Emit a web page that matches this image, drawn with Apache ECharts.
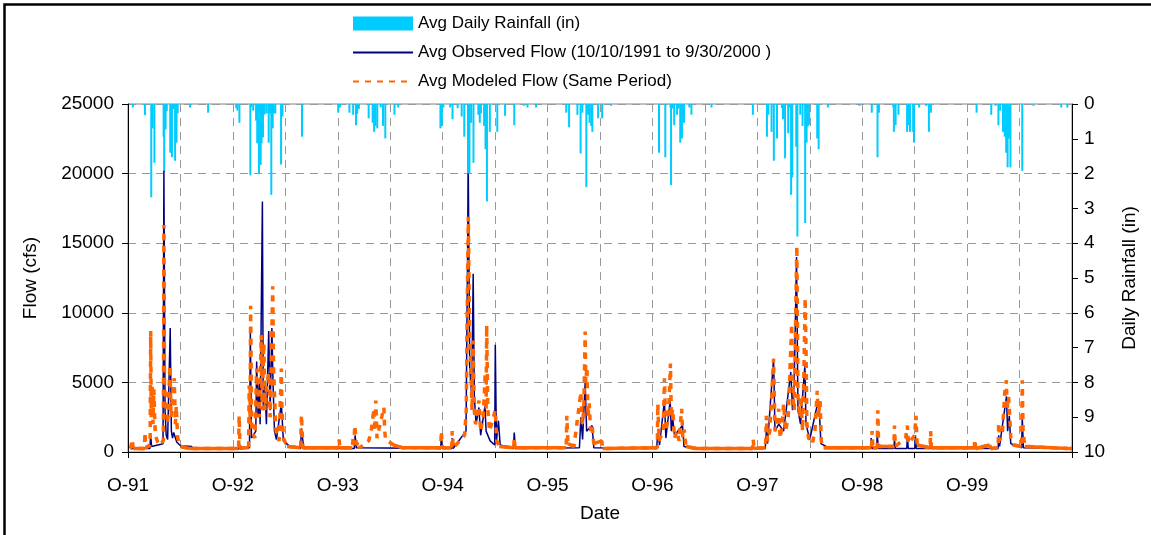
<!DOCTYPE html>
<html>
<head>
<meta charset="utf-8">
<script src="https://cdn.jsdelivr.net/npm/echarts@6/dist/echarts.min.js"></script>
<style>
  html, body { margin: 0; padding: 0; background: #fff; }
  #chart { width: 1151px; height: 535px; }
</style>
</head>
<body>
<div id="chart"></div>
<script>
// Water years Oct 1991 - Sep 2000; x axis counts days from 1 Oct 1991.
const START = Date.UTC(1991, 9, 1);
const DAY_MS = 86400000;
const YEAR_DAYS = 365.25;
const HALF_YEAR = YEAR_DAYS / 2;
const X_MAX = 9 * YEAR_DAYS;

const TICK_LABELS = ['O-91', 'O-92', 'O-93', 'O-94', 'O-95', 'O-96', 'O-97', 'O-98', 'O-99'];

const SERIES_NAMES = [
  'Avg Daily Rainfall (in)',
  'Avg Observed Flow (10/10/1991 to 9/30/2000 )',
  'Avg Modeled Flow (Same Period)'
];

// Average daily rainfall, inches
const RAINFALL = [
  ['1991-10-18', 0.10], ['1991-11-29', 0.32], ['1991-12-21', 2.68], ['1991-12-26', 0.70],
  ['1992-01-01', 1.69], ['1992-02-02', 0.94], ['1992-02-04', 1.95], ['1992-02-09', 0.73],
  ['1992-02-13', 0.20], ['1992-02-25', 1.40], ['1992-03-02', 1.53], ['1992-03-08', 0.15],
  ['1992-03-13', 1.63], ['1992-03-18', 1.11], ['1992-03-22', 0.27], ['1992-05-04', 0.10],
  ['1992-07-06', 0.25],
  ['1992-10-12', 0.12], ['1992-10-16', 0.19], ['1992-10-23', 0.54], ['1992-11-30', 2.05],
  ['1992-12-04', 0.08], ['1992-12-10', 0.19], ['1992-12-20', 0.48], ['1992-12-24', 1.13],
  ['1992-12-30', 1.99], ['1993-01-05', 1.75], ['1993-01-08', 1.13], ['1993-01-13', 0.96],
  ['1993-01-19', 0.30], ['1993-01-26', 0.27], ['1993-02-02', 1.11], ['1993-02-07', 0.27],
  ['1993-02-11', 2.61], ['1993-02-16', 0.70], ['1993-02-20', 0.27], ['1993-02-25', 0.27],
  ['1993-03-17', 1.74], ['1993-03-22', 0.36], ['1993-05-29', 0.94],
  ['1993-10-02', 0.25], ['1993-10-08', 0.10], ['1993-11-10', 0.25], ['1993-11-23', 0.31],
  ['1993-12-03', 0.61], ['1993-12-07', 0.29], ['1993-12-13', 0.14], ['1994-01-16', 0.41],
  ['1994-01-30', 0.54], ['1994-02-04', 0.80], ['1994-02-09', 0.63], ['1994-02-15', 0.70],
  ['1994-02-27', 0.10], ['1994-03-07', 0.63], ['1994-03-15', 0.99], ['1994-04-16', 0.31],
  ['1994-04-29', 0.10],
  ['1994-09-23', 0.70], ['1994-09-28', 0.63], ['1994-10-03', 0.10], ['1994-10-27', 0.10],
  ['1994-11-04', 0.44], ['1994-11-22', 0.12], ['1994-12-06', 0.36], ['1994-12-15', 0.94],
  ['1994-12-28', 3.30], ['1995-01-02', 2.00], ['1995-01-08', 0.54], ['1995-01-16', 1.69],
  ['1995-02-02', 0.31], ['1995-02-07', 0.54], ['1995-02-11', 0.27], ['1995-02-22', 0.63],
  ['1995-02-27', 1.30], ['1995-03-04', 2.80], ['1995-03-14', 0.80], ['1995-04-09', 0.80],
  ['1995-05-06', 0.34], ['1995-06-07', 0.61], ['1995-07-10', 0.05], ['1995-07-23', 0.10],
  ['1995-08-22', 0.10],
  ['1995-12-05', 0.25], ['1995-12-15', 0.67], ['1996-01-13', 0.31], ['1996-01-24', 1.42],
  ['1996-01-30', 0.25], ['1996-02-13', 2.39], ['1996-02-19', 0.31], ['1996-02-24', 0.54],
  ['1996-03-01', 0.63], ['1996-03-05', 0.80], ['1996-03-25', 0.41], ['1996-04-08', 0.41],
  ['1996-05-09', 0.05],
  ['1996-10-23', 1.40], ['1996-11-14', 1.53], ['1996-12-02', 0.10], ['1996-12-04', 2.33],
  ['1996-12-10', 0.13], ['1996-12-15', 0.61], ['1996-12-25', 0.31], ['1996-12-30', 0.13],
  ['1997-01-05', 1.11], ['1997-01-11', 0.99], ['1997-01-18', 0.54], ['1997-02-06', 0.10],
  ['1997-02-13', 0.31], ['1997-04-24', 0.10],
  ['1997-09-15', 0.31], ['1997-11-03', 0.94], ['1997-11-08', 0.31], ['1997-11-19', 0.80],
  ['1997-11-27', 1.63], ['1997-12-08', 0.99], ['1997-12-25', 0.12], ['1997-12-29', 0.44],
  ['1998-01-05', 1.56], ['1998-01-16', 0.84], ['1998-01-21', 0.10], ['1998-01-26', 2.61],
  ['1998-01-30', 2.11], ['1998-02-13', 1.23], ['1998-02-17', 3.81], ['1998-02-27', 0.31],
  ['1998-03-07', 0.63], ['1998-03-16', 3.42], ['1998-03-21', 1.11], ['1998-03-25', 0.65],
  ['1998-03-30', 0.60], ['1998-04-27', 0.99], ['1998-05-02', 1.30], ['1998-06-03', 0.10],
  ['1998-09-21', 0.05], ['1998-11-03', 0.25], ['1998-11-23', 1.53], ['1998-11-28', 0.25],
  ['1999-01-17', 0.10], ['1999-01-19', 0.80], ['1999-01-25', 0.61], ['1999-02-04', 0.31],
  ['1999-03-06', 0.80], ['1999-03-10', 0.61], ['1999-03-16', 0.80], ['1999-03-27', 0.80],
  ['1999-03-30', 1.11], ['1999-04-17', 0.10], ['1999-05-11', 0.05], ['1999-05-21', 0.80],
  ['1999-05-28', 0.25],
  ['1999-11-03', 0.25], ['1999-12-24', 0.31], ['2000-01-08', 0.05], ['2000-01-18', 0.61],
  ['2000-01-24', 0.19], ['2000-02-03', 0.80], ['2000-02-09', 0.94], ['2000-02-14', 1.40],
  ['2000-02-19', 1.82], ['2000-02-24', 0.99], ['2000-02-29', 1.82], ['2000-04-10', 1.92],
  ['2000-05-19', 0.05], ['2000-08-24', 0.10], ['2000-09-14', 0.10]
];

// Average observed flow, cfs
const OBSERVED_FLOW = [
  ['1991-10-10', 250], ['1991-12-16', 250], ['1991-12-19', 1200], ['1991-12-22', 400],
  ['1992-01-31', 600], ['1992-02-03', 20200], ['1992-02-07', 3000], ['1992-02-11', 1200],
  ['1992-02-16', 900], ['1992-02-25', 8900], ['1992-02-29', 1500], ['1992-03-04', 1000],
  ['1992-03-08', 1400], ['1992-03-19', 700], ['1992-04-01', 450], ['1992-05-10', 400],
  ['1992-05-13', 220], ['1992-10-20', 220], ['1992-10-22', 800], ['1992-10-25', 220],
  ['1992-11-27', 300], ['1992-11-30', 8600], ['1992-12-04', 1000], ['1992-12-19', 1500],
  ['1992-12-22', 6500], ['1992-12-27', 2500], ['1992-12-31', 5000], ['1993-01-03', 2000],
  ['1993-01-11', 18000], ['1993-01-14', 3000], ['1993-01-19', 5000], ['1993-01-25', 2000],
  ['1993-02-02', 8700], ['1993-02-07', 3000], ['1993-02-13', 8900], ['1993-02-17', 5000],
  ['1993-02-22', 1500], ['1993-03-01', 900], ['1993-03-18', 3500], ['1993-03-25', 800],
  ['1993-04-16', 400], ['1993-05-24', 250], ['1993-05-27', 1700], ['1993-06-04', 250],
  ['1993-11-27', 250], ['1993-11-30', 1200], ['1993-12-04', 300], ['1994-09-24', 250],
  ['1994-09-26', 1100], ['1994-09-29', 250], ['1994-11-01', 250], ['1994-11-03', 1000],
  ['1994-11-06', 250], ['1994-12-21', 1500], ['1994-12-29', 20000], ['1995-01-03', 6000],
  ['1995-01-10', 4000], ['1995-01-15', 12800], ['1995-01-19', 4000], ['1995-01-25', 2000],
  ['1995-02-04', 3200], ['1995-02-10', 1200], ['1995-02-25', 3300], ['1995-03-01', 1500],
  ['1995-03-15', 800], ['1995-03-31', 500], ['1995-04-02', 7700], ['1995-04-06', 800],
  ['1995-04-13', 2250], ['1995-04-19', 500], ['1995-06-04', 250], ['1995-06-07', 1400],
  ['1995-06-11', 250], ['1996-01-20', 300], ['1996-01-25', 2500], ['1996-01-31', 900],
  ['1996-02-09', 5000], ['1996-02-14', 1500], ['1996-03-04', 1900], ['1996-03-10', 300],
  ['1996-10-15', 250], ['1996-10-19', 1500], ['1996-10-25', 500], ['1996-11-11', 3700],
  ['1996-11-16', 1000], ['1996-12-01', 3700], ['1996-12-05', 1500], ['1996-12-10', 2400],
  ['1996-12-16', 1200], ['1997-01-13', 1900], ['1997-01-18', 400], ['1997-02-20', 250],
  ['1997-10-28', 250], ['1997-11-01', 1500], ['1997-11-05', 600], ['1997-11-26', 6700],
  ['1997-12-01', 1500], ['1997-12-14', 2000], ['1997-12-31', 1500], ['1998-01-25', 5750],
  ['1998-01-31', 3000], ['1998-02-06', 5000], ['1998-02-14', 14000], ['1998-02-19', 3000],
  ['1998-02-28', 2000], ['1998-03-15', 6200], ['1998-03-19', 2000], ['1998-04-01', 900],
  ['1998-04-28', 3450], ['1998-05-04', 3100], ['1998-05-10', 600], ['1998-06-10', 250],
  ['1998-10-30', 250], ['1998-11-01', 1000], ['1998-11-04', 250], ['1998-11-20', 250],
  ['1998-11-22', 1300], ['1998-11-26', 250], ['1999-01-19', 250], ['1999-01-21', 900],
  ['1999-01-24', 250], ['1999-03-05', 250], ['1999-03-07', 1200], ['1999-03-10', 250],
  ['1999-04-02', 250], ['1999-04-04', 1200], ['1999-04-07', 250], ['1999-05-25', 250],
  ['1999-05-27', 1000], ['1999-05-30', 250], ['2000-01-17', 250], ['2000-01-19', 1200],
  ['2000-01-22', 400], ['2000-02-15', 4000], ['2000-02-19', 1500], ['2000-02-25', 2600],
  ['2000-03-01', 600], ['2000-04-08', 300], ['2000-04-10', 2500], ['2000-04-14', 300],
  ['2000-09-30', 250]
];

// Average modeled flow, cfs
const MODELED_FLOW = [
  ['1991-10-10', 250], ['1991-10-14', 250], ['1991-10-16', 900], ['1991-10-19', 250],
  ['1991-11-27', 250], ['1991-11-29', 1400], ['1991-12-02', 300], ['1991-12-17', 500],
  ['1991-12-19', 8700], ['1991-12-21', 2500], ['1991-12-24', 4800], ['1991-12-27', 2000],
  ['1991-12-30', 4500], ['1992-01-04', 1200], ['1992-01-16', 500], ['1992-02-01', 800],
  ['1992-02-03', 16300], ['1992-02-05', 5000], ['1992-02-10', 3500], ['1992-02-16', 2000],
  ['1992-02-24', 6200], ['1992-02-28', 2500], ['1992-03-04', 4000], ['1992-03-10', 5300],
  ['1992-03-14', 2000], ['1992-03-17', 3300], ['1992-03-22', 1000], ['1992-04-01', 400],
  ['1992-05-01', 250], ['1992-10-20', 250], ['1992-10-22', 2600], ['1992-10-25', 300],
  ['1992-11-24', 300], ['1992-11-26', 4800], ['1992-11-29', 2000], ['1992-12-01', 10500],
  ['1992-12-05', 1500], ['1992-12-16', 1000], ['1992-12-22', 6000], ['1992-12-26', 4500],
  ['1992-12-31', 2500], ['1993-01-07', 8400], ['1993-01-10', 3000], ['1993-01-16', 7800],
  ['1993-01-20', 3000], ['1993-01-25', 4500], ['1993-02-02', 5700], ['1993-02-07', 2500],
  ['1993-02-16', 11900], ['1993-02-19', 6000], ['1993-02-22', 6000], ['1993-02-26', 2000],
  ['1993-03-01', 1200], ['1993-03-10', 800], ['1993-03-18', 6000], ['1993-03-20', 3300],
  ['1993-03-25', 1000], ['1993-04-07', 400], ['1993-05-24', 300], ['1993-05-27', 2650],
  ['1993-06-01', 300], ['1993-10-03', 300], ['1993-10-05', 900], ['1993-10-08', 300],
  ['1993-11-20', 300], ['1993-11-23', 1000], ['1993-11-25', 500], ['1993-11-29', 1900],
  ['1993-12-04', 500], ['1993-12-10', 700], ['1993-12-15', 300], ['1994-01-16', 800],
  ['1994-01-25', 1500], ['1994-02-03', 3100], ['1994-02-07', 1500], ['1994-02-10', 3700],
  ['1994-02-14', 1000], ['1994-03-10', 3200], ['1994-03-13', 1500], ['1994-03-16', 900],
  ['1994-04-13', 500], ['1994-05-15', 300], ['1994-09-24', 300], ['1994-09-26', 1500],
  ['1994-09-30', 300], ['1994-11-01', 300], ['1994-11-03', 1500], ['1994-11-07', 300],
  ['1994-12-16', 1200], ['1994-12-22', 3000], ['1994-12-25', 10000], ['1994-12-29', 16900],
  ['1995-01-02', 9000], ['1995-01-07', 6000], ['1995-01-11', 3000], ['1995-01-15', 8000],
  ['1995-01-19', 3000], ['1995-01-23', 2000], ['1995-02-04', 3700], ['1995-02-10', 1500],
  ['1995-02-19', 2500], ['1995-02-26', 5700], ['1995-03-01', 3000], ['1995-03-03', 9100],
  ['1995-03-07', 3100], ['1995-03-13', 1500], ['1995-04-02', 3000], ['1995-04-07', 800],
  ['1995-04-16', 400], ['1995-06-05', 300], ['1995-06-07', 1000], ['1995-06-10', 300],
  ['1995-12-05', 300], ['1995-12-07', 2600], ['1995-12-11', 600], ['1996-01-01', 400],
  ['1996-01-25', 4300], ['1996-01-30', 2000], ['1996-02-04', 3000], ['1996-02-09', 8650],
  ['1996-02-11', 5000], ['1996-02-15', 6100], ['1996-02-19', 2500], ['1996-02-23', 3500],
  ['1996-02-28', 1500], ['1996-03-04', 1900], ['1996-03-10', 600], ['1996-04-07', 800],
  ['1996-04-10', 250], ['1996-10-17', 300], ['1996-10-19', 3450], ['1996-10-23', 800],
  ['1996-11-07', 1500], ['1996-11-11', 5300], ['1996-11-16', 1500], ['1996-11-25', 2500],
  ['1996-12-02', 6350], ['1996-12-05', 2500], ['1996-12-10', 3100], ['1996-12-16', 1000],
  ['1996-12-25', 1500], ['1997-01-01', 800], ['1997-01-10', 3100], ['1997-01-14', 1000],
  ['1997-01-19', 1600], ['1997-01-25', 400], ['1997-03-01', 250], ['1997-09-14', 250],
  ['1997-09-16', 900], ['1997-09-19', 250], ['1997-10-29', 300], ['1997-11-01', 2600],
  ['1997-11-05', 800], ['1997-11-13', 1500], ['1997-11-26', 6700], ['1997-12-01', 1500],
  ['1997-12-07', 2000], ['1997-12-14', 3100], ['1997-12-19', 1000], ['1997-12-25', 1800],
  ['1997-12-31', 3450], ['1998-01-07', 1500], ['1998-01-16', 2500], ['1998-01-28', 9200],
  ['1998-02-02', 4000], ['1998-02-06', 3000], ['1998-02-15', 14800], ['1998-02-19', 4000],
  ['1998-02-25', 2500], ['1998-03-01', 4000], ['1998-03-07', 1500], ['1998-03-11', 5000],
  ['1998-03-16', 11060], ['1998-03-19', 7560], ['1998-03-22', 2000], ['1998-03-28', 1000],
  ['1998-04-10', 600], ['1998-04-19', 1500], ['1998-04-27', 4400], ['1998-05-01', 2500],
  ['1998-05-07', 3700], ['1998-05-11', 800], ['1998-05-19', 300], ['1998-11-02', 300],
  ['1998-11-04', 1500], ['1998-11-07', 300], ['1998-11-22', 300], ['1998-11-24', 3000],
  ['1998-11-27', 400], ['1999-01-19', 400], ['1999-01-21', 1900], ['1999-01-24', 400],
  ['1999-03-01', 1000], ['1999-03-07', 1900], ['1999-03-11', 600], ['1999-04-01', 1200],
  ['1999-04-06', 2600], ['1999-04-10', 500], ['1999-05-25', 300], ['1999-05-27', 1500],
  ['1999-05-30', 300], ['1999-10-26', 300], ['1999-10-28', 900], ['1999-10-31', 250],
  ['1999-12-19', 500], ['1999-12-22', 250], ['2000-01-17', 300], ['2000-01-19', 2100],
  ['2000-01-22', 800], ['2000-02-01', 1500], ['2000-02-10', 4500], ['2000-02-15', 5150],
  ['2000-02-17', 3000], ['2000-02-22', 4000], ['2000-02-25', 3200], ['2000-03-01', 1000],
  ['2000-03-10', 500], ['2000-04-08', 400], ['2000-04-10', 5150], ['2000-04-13', 1500],
  ['2000-04-19', 400], ['2000-09-17', 250], ['2000-09-19', 550], ['2000-09-22', 250],
  ['2000-09-30', 250]
];

function dayIndex(dateStr) {
  const [y, m, d] = dateStr.split('-').map(Number);
  return (Date.UTC(y, m - 1, d) - START) / DAY_MS;
}
const toPoints = rows => rows.map(([date, v]) => [dayIndex(date), v]);

const modeledPoints = toPoints(MODELED_FLOW);
// consecutive pairs of the modeled series, used to keep its low-flow stretches solid
const modeledSegments = modeledPoints.slice(1).map((p, i) => [modeledPoints[i][0], modeledPoints[i][1], p[0], p[1]]);

const FONT = 'Liberation Sans, Arial, sans-serif';
const ORANGE = '#FF6600';
const NAVY = '#000080';
const GRID_LINE = { show: true, lineStyle: { color: '#999999', width: 1, type: [8, 6] } };

const chart = echarts.init(document.getElementById('chart'), null, { renderer: 'canvas' });

chart.setOption({
  backgroundColor: '#ffffff',
  animation: false,
  textStyle: { fontFamily: FONT, color: '#000' },
  graphic: [{
    type: 'rect',
    shape: { x: 4.5, y: 4.5, width: 1200, height: 600 },
    style: { fill: 'none', stroke: '#000', lineWidth: 2.5 },
    silent: true,
    z: 100
  }],
  legend: {
    orient: 'vertical',
    left: 347,
    top: 10,
    itemWidth: 60,
    itemHeight: 14,
    itemGap: 12,
    textStyle: { fontSize: 17, color: '#000', fontFamily: FONT },
    data: [
      { name: SERIES_NAMES[0], icon: 'rect' },
      { name: SERIES_NAMES[1], itemStyle: { opacity: 0 } },
      { name: SERIES_NAMES[2], itemStyle: { opacity: 0 } }
    ]
  },
  grid: {
    left: 128, right: 79, top: 104, bottom: 83,
    show: true, borderColor: '#808080', borderWidth: 1, backgroundColor: 'transparent'
  },
  xAxis: {
    type: 'value',
    min: 0,
    max: X_MAX,
    interval: HALF_YEAR,
    name: 'Date',
    nameLocation: 'middle',
    nameGap: 52,
    nameTextStyle: { fontSize: 19, color: '#000', fontFamily: FONT },
    axisLine: { lineStyle: { color: '#000', width: 1 } },
    axisTick: { show: true, inside: false, length: 6, lineStyle: { color: '#000' } },
    axisLabel: {
      fontSize: 19, color: '#000', margin: 24, fontFamily: FONT,
      formatter: v => {
        const k = Math.round(v / YEAR_DAYS);
        return (Math.abs(v - k * YEAR_DAYS) < 1 && k < TICK_LABELS.length) ? TICK_LABELS[k] : '';
      }
    },
    splitLine: GRID_LINE
  },
  yAxis: [{
    type: 'value',
    min: 0,
    max: 25000,
    interval: 5000,
    name: 'Flow (cfs)',
    nameLocation: 'middle',
    nameRotate: 90,
    nameGap: 88,
    nameTextStyle: { fontSize: 19, color: '#000', fontFamily: FONT },
    axisLine: { show: true, lineStyle: { color: '#000', width: 1 } },
    axisTick: { show: true, length: 6, lineStyle: { color: '#000' } },
    axisLabel: { fontSize: 19, color: '#000', margin: 14, fontFamily: FONT, formatter: v => String(v) },
    splitLine: GRID_LINE
  }, {
    type: 'value',
    position: 'right',
    min: 0,
    max: 10,
    interval: 1,
    inverse: true,
    name: 'Daily Rainfall (in)',
    nameLocation: 'middle',
    nameRotate: 90,
    nameGap: 48,
    nameTextStyle: { fontSize: 19, color: '#000', fontFamily: FONT },
    axisLine: { show: true, lineStyle: { color: '#000', width: 1 } },
    axisTick: { show: true, length: 6, lineStyle: { color: '#000' } },
    axisLabel: { fontSize: 19, color: '#000', margin: 12, fontFamily: FONT },
    splitLine: { show: false }
  }],
  series: [{
    name: SERIES_NAMES[0],
    type: 'bar',
    yAxisIndex: 1,
    barWidth: 2,
    itemStyle: { color: '#00CCFF' },
    data: toPoints(RAINFALL),
    z: 2
  }, {
    name: SERIES_NAMES[1],
    type: 'line',
    yAxisIndex: 0,
    symbol: 'none',
    color: NAVY,
    lineStyle: { color: NAVY, width: 1.5 },
    data: toPoints(OBSERVED_FLOW),
    z: 3
  }, {
    name: SERIES_NAMES[2],
    type: 'line',
    yAxisIndex: 0,
    symbol: 'none',
    color: ORANGE,
    lineStyle: { color: ORANGE, width: 3.5, type: [6, 6] },
    data: modeledPoints,
    z: 4
  }, {
    // low, nearly flat stretches of the modeled flow read as a continuous band
    name: SERIES_NAMES[2],
    type: 'custom',
    yAxisIndex: 0,
    clip: true,
    encode: { x: [0, 2], y: [1, 3] },
    data: modeledSegments,
    z: 4,
    renderItem: (params, api) => {
      const p0 = api.coord([api.value(0), api.value(1)]);
      const p1 = api.coord([api.value(2), api.value(3)]);
      if (Math.abs(p1[1] - p0[1]) > 4) return null;
      return {
        type: 'line',
        shape: { x1: p0[0], y1: p0[1], x2: p1[0], y2: p1[1] },
        style: { stroke: ORANGE, lineWidth: 3.5, fill: null }
      };
    }
  }]
});
</script>
</body>
</html>
